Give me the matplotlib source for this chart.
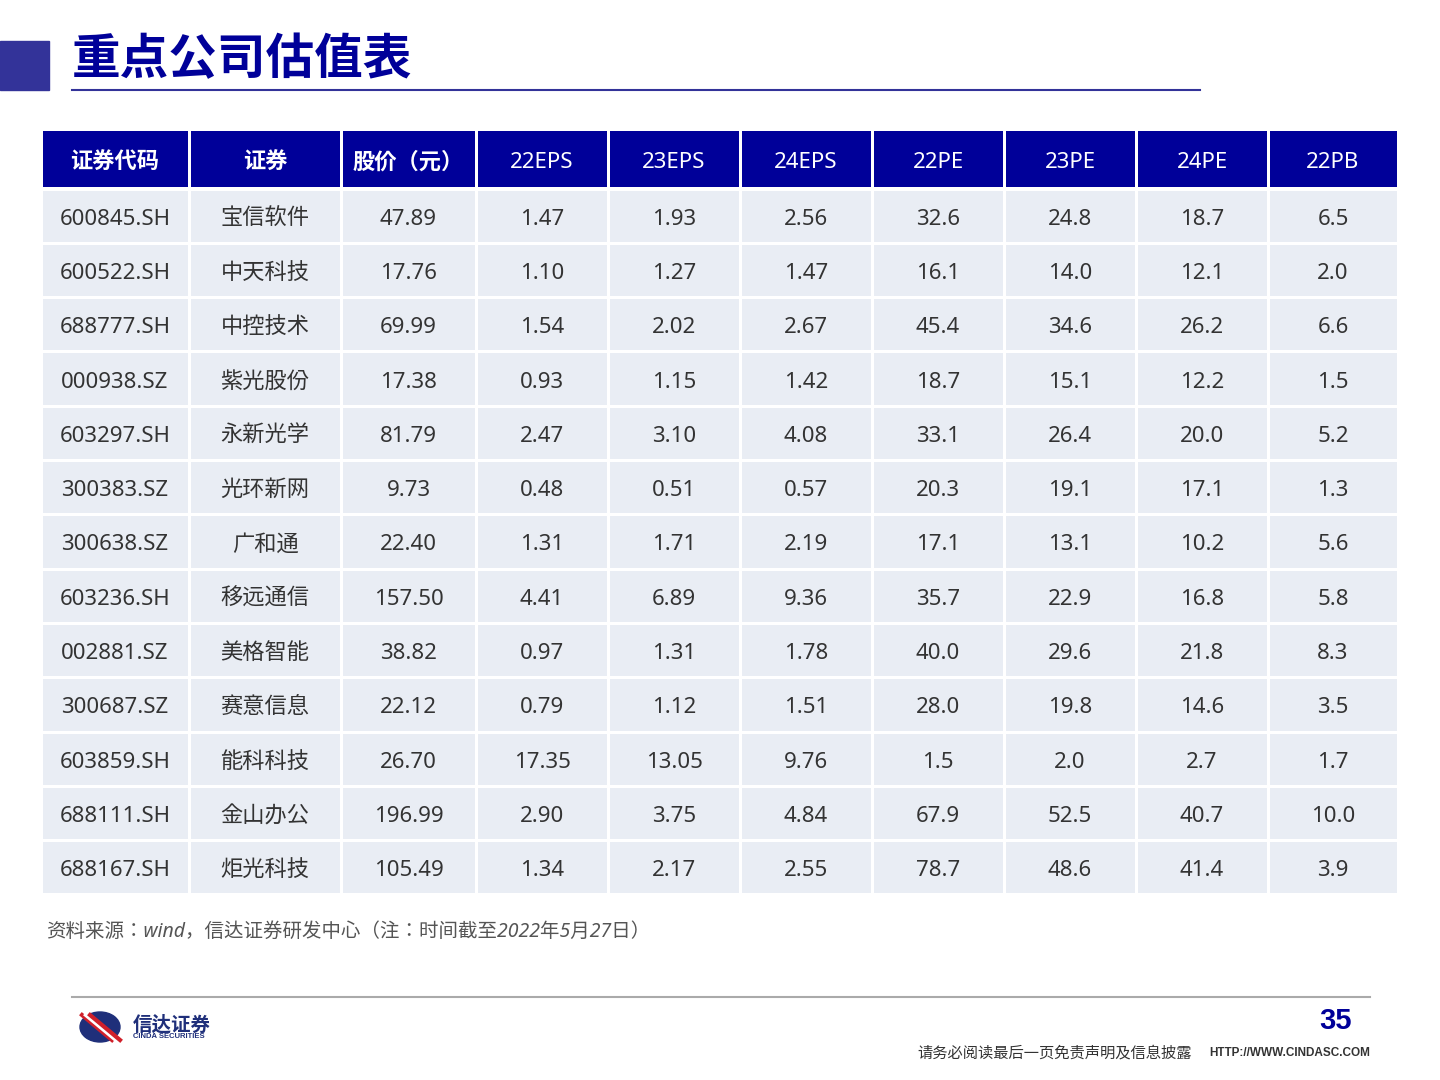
import matplotlib
matplotlib.use("Agg")
import matplotlib.pyplot as plt
from matplotlib import font_manager as fm
from matplotlib.patches import Rectangle, Ellipse

headers = ["证券代码", "证券", "股价（元）", "22EPS", "23EPS", "24EPS", "22PE", "23PE", "24PE", "22PB"]
codes = ["600845.SH", "600522.SH", "688777.SH", "000938.SZ", "603297.SH", "300383.SZ", "300638.SZ",
         "603236.SH", "002881.SZ", "300687.SZ", "603859.SH", "688111.SH", "688167.SH"]
names = ["宝信软件", "中天科技", "中控技术", "紫光股份", "永新光学", "光环新网", "广和通",
         "移远通信", "美格智能", "赛意信息", "能科科技", "金山办公", "炬光科技"]
price = ["47.89", "17.76", "69.99", "17.38", "81.79", "9.73", "22.40", "157.50", "38.82", "22.12", "26.70", "196.99", "105.49"]
eps22 = ["1.47", "1.10", "1.54", "0.93", "2.47", "0.48", "1.31", "4.41", "0.97", "0.79", "17.35", "2.90", "1.34"]
eps23 = ["1.93", "1.27", "2.02", "1.15", "3.10", "0.51", "1.71", "6.89", "1.31", "1.12", "13.05", "3.75", "2.17"]
eps24 = ["2.56", "1.47", "2.67", "1.42", "4.08", "0.57", "2.19", "9.36", "1.78", "1.51", "9.76", "4.84", "2.55"]
pe22 = ["32.6", "16.1", "45.4", "18.7", "33.1", "20.3", "17.1", "35.7", "40.0", "28.0", "1.5", "67.9", "78.7"]
pe23 = ["24.8", "14.0", "34.6", "15.1", "26.4", "19.1", "13.1", "22.9", "29.6", "19.8", "2.0", "52.5", "48.6"]
pe24 = ["18.7", "12.1", "26.2", "12.2", "20.0", "17.1", "10.2", "16.8", "21.8", "14.6", "2.7", "40.7", "41.4"]
pb22 = ["6.5", "2.0", "6.6", "1.5", "5.2", "1.3", "5.6", "5.8", "8.3", "3.5", "1.7", "10.0", "3.9"]

cols = [codes, names, price, eps22, eps23, eps24, pe22, pe23, pe24, pb22]

cjk_names = sorted({f.name for f in fm.fontManager.ttflist if "CJK" in f.name})
pref = [n for n in ["Noto Sans CJK SC", "Noto Sans CJK JP", "Noto Sans CJK TC", "Noto Sans CJK KR"] if n in cjk_names] + cjk_names
CJK = pref[0] if pref else "DejaVu Sans"
plt.rcParams["font.family"] = ["Noto Sans", CJK, "DejaVu Sans"]
plt.rcParams["axes.unicode_minus"] = False

fig = plt.figure(figsize=(14.4, 10.8), dpi=100)
ax = fig.add_axes([0, 0, 1, 1])
ax.set_xlim(0, 1440); ax.set_ylim(1080, 0); ax.axis("off")

ax.add_patch(Rectangle((0, 41), 49, 49, color="#333399"))
ax.text(72, 60, "重点公司估值表", fontsize=35, fontweight="bold", color="#000099",
        family=CJK, va="center", ha="left")
ax.plot([72, 1200], [90, 90], color="#333399", lw=1.5)

xs = [41, 189, 341, 476, 608, 740, 872, 1004, 1136, 1268, 1398]
ytop, yh = 131, 187
rh = (895 - 189) / 13
g = 1.5
for j in range(10):
    ax.add_patch(Rectangle((xs[j] + g, ytop), xs[j+1] - xs[j] - 2*g, yh - ytop, color="#000099", lw=0))
    ax.text((xs[j] + xs[j+1]) / 2, (ytop + yh) / 2 + 4, headers[j], color="white", fontsize=16,
            fontweight="bold" if j < 3 else "normal", ha="center", va="center")
    for i in range(13):
        y0 = 189 + i * rh
        ax.add_patch(Rectangle((xs[j] + g, y0 + g), xs[j+1] - xs[j] - 2*g, rh - 2*g, color="#E9EDF4", lw=0))
        ax.text((xs[j] + xs[j+1]) / 2, y0 + rh / 2 + 3, cols[j][i], color="#333333", fontsize=16,
                ha="center", va="center")

ax.text(46, 932, "资料来源：wind，信达证券研发中心（注：时间截至2022年5月27日）", fontsize=14,
        color="#555555", style="italic", ha="left", va="center")

ax.plot([72, 1370], [997, 997], color="#AAAAAA", lw=1.5)
ax.add_patch(Ellipse((100, 1027), 40, 30, color="#1f2f7a"))
for k, c in enumerate(["#d0202a", "white", "#d0202a"]):
    ax.plot([82 + k*4, 112 + k*4], [1015, 1040], color=c, lw=3)
ax.text(133, 1025, "信达证券", fontsize=14, fontweight="bold", color="#1f2f7a", family=CJK, va="center")
ax.text(133, 1037, "CINDA SECURITIES", fontsize=5.5, fontweight="bold", color="#1f2f7a",
        family="Liberation Sans", va="center")
ax.text(1352, 1021, "35", fontsize=21, fontweight="bold", color="#000099", family="Liberation Sans",
        ha="right", va="center")
ax.text(1192, 1053, "请务必阅读最后一页免责声明及信息披露", fontsize=11, color="#333333", family=CJK, ha="right", va="center")
ax.text(1370, 1053, "HTTP://WWW.CINDASC.COM", fontsize=8.5, fontweight="bold", color="#333333",
        family="Liberation Sans", ha="right", va="center")

fig.savefig("out.png", dpi=100)
